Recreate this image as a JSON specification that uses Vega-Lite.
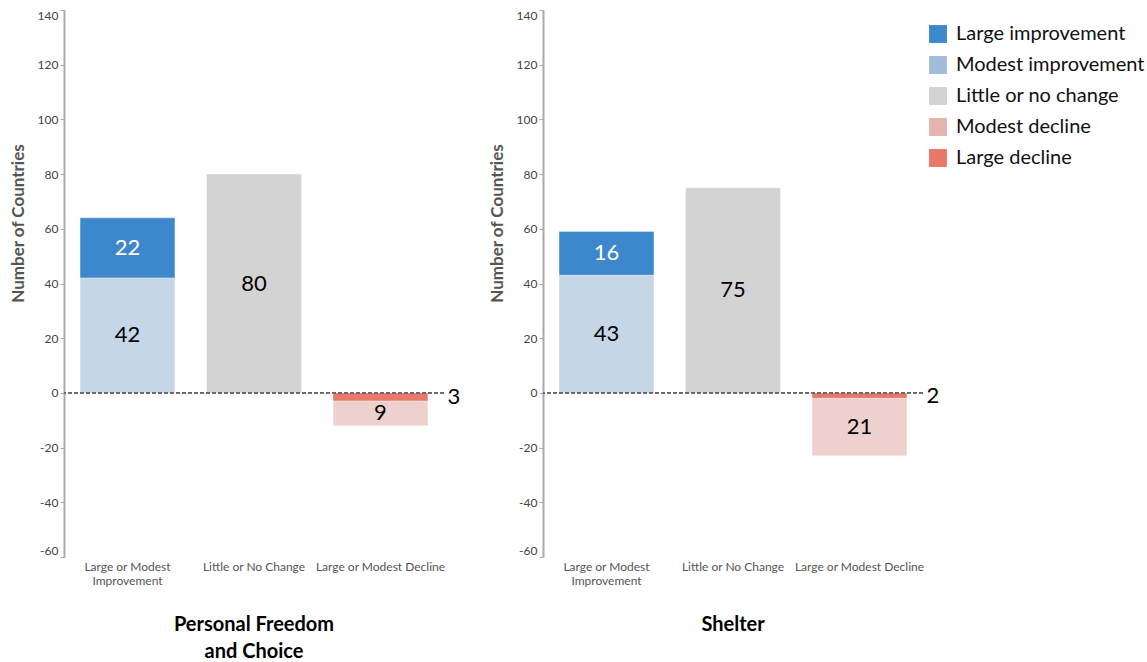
{
  "$schema": "https://vega.github.io/schema/vega-lite/v6.json",
  "padding": {"left": 9, "top": 9, "right": 5, "bottom": 0},
  "config": {"view": {"stroke": null}, "font": "Lato", "legend": {"symbolOpacity": 1}},
  "data": {"values": [
    {"panel": "Personal Freedom and Choice", "category": "Large or Modest Improvement", "segment": "Large improvement", "value": 22},
    {"panel": "Personal Freedom and Choice", "category": "Large or Modest Improvement", "segment": "Modest improvement", "value": 42},
    {"panel": "Personal Freedom and Choice", "category": "Little or No Change", "segment": "Little or no change", "value": 80},
    {"panel": "Personal Freedom and Choice", "category": "Large or Modest Decline", "segment": "Large decline", "value": -3},
    {"panel": "Personal Freedom and Choice", "category": "Large or Modest Decline", "segment": "Modest decline", "value": -9},
    {"panel": "Shelter", "category": "Large or Modest Improvement", "segment": "Large improvement", "value": 16},
    {"panel": "Shelter", "category": "Large or Modest Improvement", "segment": "Modest improvement", "value": 43},
    {"panel": "Shelter", "category": "Little or No Change", "segment": "Little or no change", "value": 75},
    {"panel": "Shelter", "category": "Large or Modest Decline", "segment": "Large decline", "value": -2},
    {"panel": "Shelter", "category": "Large or Modest Decline", "segment": "Modest decline", "value": -21}
  ]},
  "transform": [
    {"calculate": "indexof(['Modest improvement','Large improvement','Little or no change','Large decline','Modest decline'], datum.segment)", "as": "stackOrder"},
    {"stack": "value", "groupby": ["panel", "category"], "sort": [{"field": "stackOrder", "order": "ascending"}], "as": ["v0", "v1"], "offset": "zero"},
    {"calculate": "(datum.v0 + datum.v1) / 2", "as": "mid"},
    {"calculate": "abs(datum.value)", "as": "count"}
  ],
  "facet": {
    "column": {
      "field": "panel", "type": "nominal",
      "sort": ["Personal Freedom and Choice", "Shelter"],
      "title": null,
      "header": {
        "labelOrient": "bottom",
        "labelFont": "Lato", "labelFontSize": 20, "labelFontWeight": "bold", "labelColor": "#000",
        "labelPadding": 29, "labelLineHeight": 27, "labelBaseline": "top",
        "labelExpr": "datum.value == 'Personal Freedom and Choice' ? ['Personal Freedom', 'and Choice'] : datum.value"
      }
    }
  },
  "spacing": 99,
  "bounds": "flush",
  "resolve": {"axis": {"y": "independent"}},
  "spec": {
    "width": 380,
    "height": 547,
    "layer": [
      {
        "mark": {"type": "bar", "stroke": "#ffffff", "strokeOpacity": 0.35, "strokeWidth": 1},
        "encoding": {
          "x": {
            "field": "category", "type": "nominal",
            "sort": ["Large or Modest Improvement", "Little or No Change", "Large or Modest Decline"],
            "scale": {"paddingInner": 0.25, "paddingOuter": 0.127},
            "axis": {
              "title": null, "domain": false, "ticks": false, "labelAngle": 0,
              "labelFont": "Lato", "labelFontSize": 12, "labelColor": "#555", "labelPadding": 4,
              "labelExpr": "datum.label == 'Large or Modest Improvement' ? ['Large or Modest', 'Improvement'] : datum.label"
            }
          },
          "y": {
            "field": "v0", "type": "quantitative",
            "scale": {"domain": [-60, 140], "nice": false},
            "axis": {
              "title": "Number of Countries", "values": [-60, -40, -20, 0, 20, 40, 60, 80, 100, 120, 140],
              "labelExpr": "replace(datum.label, '\u2212', '-')",
              "grid": false, "labelFlush": true, "labelFont": "Lato", "labelFontSize": 12, "labelColor": "#444",
              "domainColor": "#aaa", "domainWidth": 2, "tickColor": "#aaa", "tickSize": 4, "labelPadding": 2,
              "titleFont": "Lato", "titleFontSize": 17, "titleFontWeight": "bold", "titleColor": "#555",
              "titlePadding": 10, "titleY": 213
            }
          },
          "y2": {"field": "v1"},
          "color": {
            "field": "segment", "type": "nominal",
            "scale": {
              "domain": ["Large improvement", "Modest improvement", "Little or no change", "Modest decline", "Large decline"],
              "range": ["#3d88cc", "#a0bcd7", "#d3d3d3", "#e4b4ae", "#e8786a"]
            },
            "legend": {
              "title": null, "orient": "none", "legendX": 864, "legendY": 14,
              "labelFont": "Lato", "labelFontSize": 20, "labelColor": "#111", "labelLimit": 0,
              "symbolType": "square", "symbolSize": 320, "symbolStrokeWidth": 0, "symbolOpacity": 1,
              "rowPadding": 11, "labelOffset": 8
            }
          },
          "opacity": {
            "condition": {"test": "datum.segment == 'Modest improvement' || datum.segment == 'Modest decline'", "value": 0.6},
            "value": 1
          }
        }
      },
      {
        "mark": {"type": "rule", "color": "#666", "strokeDash": [4, 2], "strokeWidth": 1},
        "encoding": {"y": {"datum": 0}}
      },
      {
        "transform": [{"filter": "datum.segment != 'Large decline'"}],
        "mark": {"type": "text", "font": "Lato", "fontSize": 22, "align": "center", "baseline": "middle"},
        "encoding": {
          "x": {"field": "category", "type": "nominal", "sort": ["Large or Modest Improvement", "Little or No Change", "Large or Modest Decline"]},
          "y": {"field": "mid", "type": "quantitative"},
          "text": {"field": "count", "type": "quantitative", "format": "d"},
          "color": {"condition": {"test": "datum.segment == 'Large improvement'", "value": "#ffffff"}, "value": "#000000"}
        }
      },
      {
        "transform": [{"filter": "datum.segment == 'Large decline'"}],
        "mark": {"type": "text", "font": "Lato", "fontSize": 22, "align": "left", "baseline": "middle", "dx": 67, "color": "#000"},
        "encoding": {
          "x": {"field": "category", "type": "nominal", "sort": ["Large or Modest Improvement", "Little or No Change", "Large or Modest Decline"]},
          "y": {"field": "mid", "type": "quantitative"},
          "text": {"field": "count", "type": "quantitative", "format": "d"}
        }
      }
    ]
  }
}
